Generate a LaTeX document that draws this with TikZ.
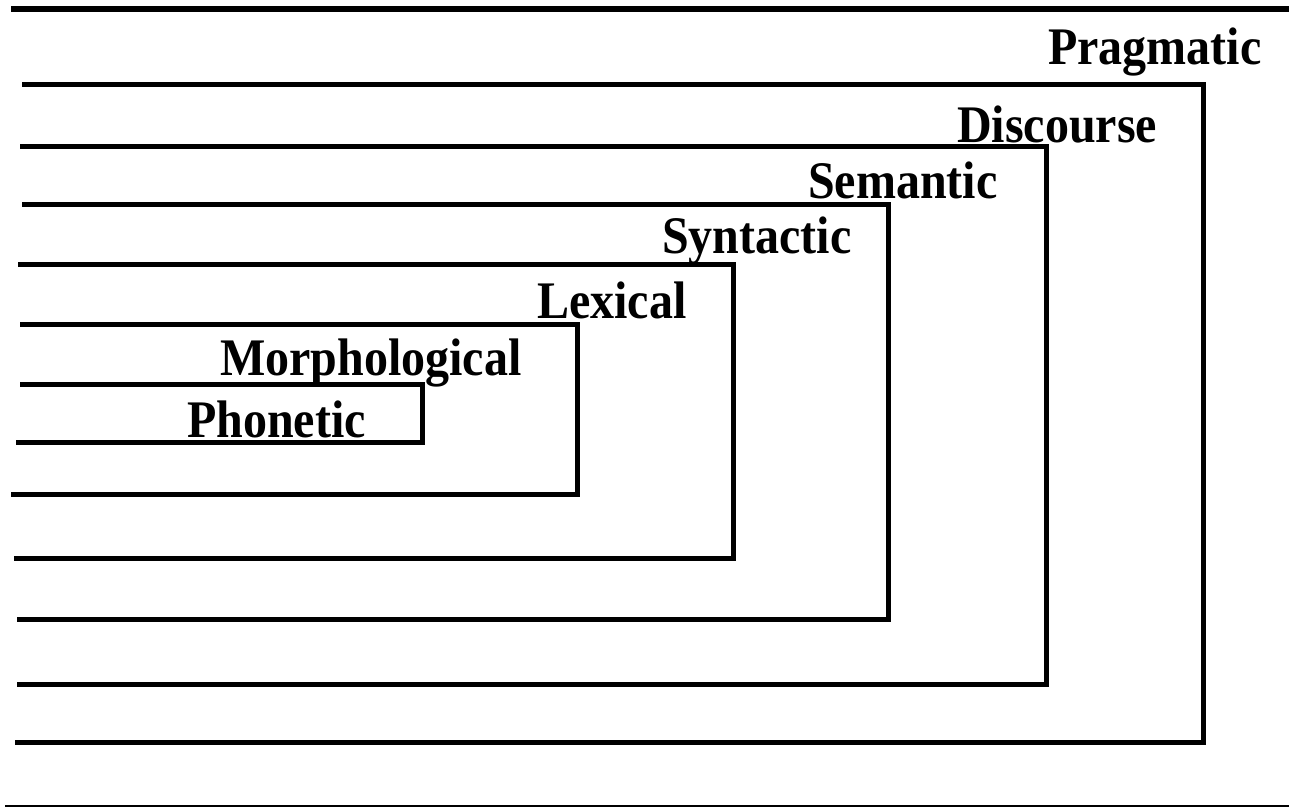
\documentclass[tikz,border=0pt]{standalone}
\usepackage{graphicx}
\usepackage{fontspec}
\setmainfont{Liberation Serif}
\begin{document}
\begin{tikzpicture}[x=1pt, y=-1pt, line join=miter, line cap=butt,
	level/.style={line width=5pt},
	lab/.style={anchor=base west, inner sep=0pt, font=\fontsize{48}{56}\selectfont\bfseries}]
	\useasboundingbox (0,0) rectangle (1289,807);
	% rules at top and bottom
	\draw[line width=6pt] (11,9)--(1289,9);
	\draw[line width=1.5pt] (5,806)--(1289,806);
	% nested levels: top/bottom/right/left top/left bottom
	\foreach \t/\b/\r/\lt/\lb in {84/742/1203/22/15, 146/684/1046/20/17, 204/619/888/22/17,
		264/558/733/18/14, 324/494/577/20/11, 384/442/422/20/16}
		\draw[level] (\lt,\t)--(\r,\t)--(\r,\b)--(\lb,\b);
	% labels, a little taller than wide
	\foreach \x/\y/\txt in {1048/64/Pragmatic, 957/142/Discourse, 808/198/Semantic,
		662/253/Syntactic, 537/318/Lexical, 220/375/Morphological, 187/437/Phonetic}
		\node[lab] (\txt) at (\x,\y) {\scalebox{1}[1.1]{\txt}};
\end{tikzpicture}
\end{document}
